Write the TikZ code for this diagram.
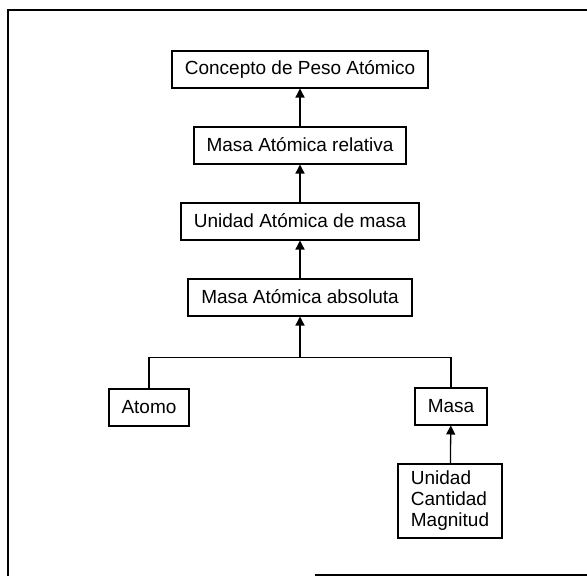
\documentclass[tikz,border=0pt]{standalone}
\usepackage{fontspec}
\setmainfont{Liberation Sans}
\usetikzlibrary{chains,positioning,arrows.meta}

\begin{document}
\begin{tikzpicture}
\tikzstyle{every path}=[line width=1.3pt]
\tikzstyle{concept}=[draw,line width=2pt,inner xsep=13pt,minimum height=37pt,
font=\fontsize{19}{21}\selectfont]
\tikzstyle{link}=[-{Triangle[width=9pt,length=9pt]}]
\useasboundingbox (0,0) rectangle (587pt,-576pt);
% frame
\draw [line width=2pt] (587pt,-10pt) -- (8pt,-10pt) -- (8pt,-576pt);
\draw [line width=2pt] (315pt,-575pt) -- (587pt,-575pt);
\begin{scope}[start chain=1 going below,node distance=37pt]
 \node [on chain=1,concept] at (300pt,-69pt) (peso) {Concepto de Peso Atómico};
 \node [on chain=1,concept] (relativa) {Masa Atómica relativa};
 \node [on chain=1,concept] (unidad) {Unidad Atómica de masa};
 \node [on chain=1,concept] (absoluta) {Masa Atómica absoluta};
\end{scope}
\node [concept] at (149pt,-407pt) (atomo) {Atomo};
\node [concept] at (451pt,-406pt) (masa) {Masa};
\node [concept,align=left,inner ysep=7pt] at (450pt,-501pt) (magnitud)
 {Unidad\\Cantidad\\Magnitud};
\coordinate [below=41pt of absoluta] (union);
\draw [link] (relativa) -- (peso);
\draw [link] (unidad) -- (relativa);
\draw [link] (absoluta) -- (unidad);
\draw [link] (union) -- (absoluta);
\draw (atomo) |- (union) -| (masa);
\draw [link] (magnitud) -- (masa);
\end{tikzpicture}
\end{document}
